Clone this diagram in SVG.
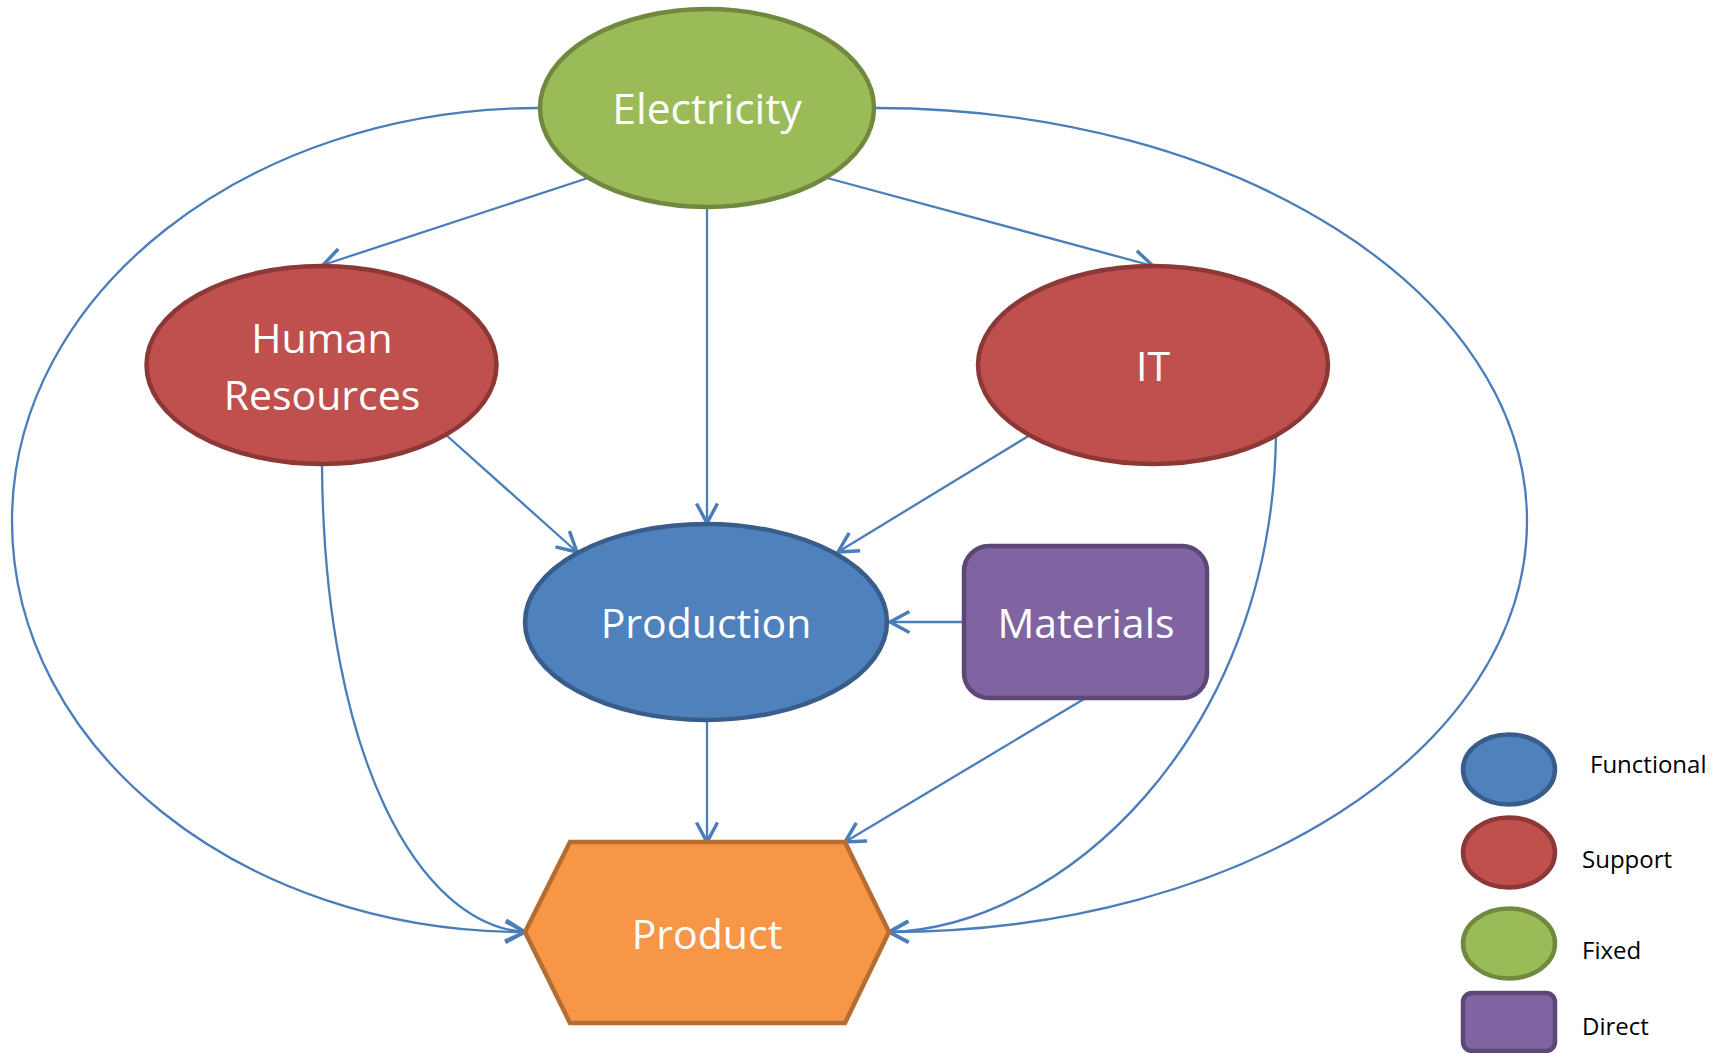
<svg xmlns="http://www.w3.org/2000/svg" width="1720" height="1053" viewBox="0 0 1720 1053">
<style>
.lbl{font-family:"Open Sans","Liberation Sans",sans-serif;font-size:41px;fill:#ffffff;text-anchor:middle}
.leg{font-family:"Open Sans","Liberation Sans",sans-serif;font-size:24px;fill:#000000}
.edge{fill:none;stroke:#4a7ebb;stroke-width:2.3}
.green{fill:#9bbb59;stroke:#71893f;stroke-width:4.5}
.red{fill:#c0504d;stroke:#8c3836;stroke-width:4.5}
.blue{fill:#4f81bd;stroke:#385d8a;stroke-width:4.5}
.purple{fill:#8064a2;stroke:#5c4776;stroke-width:4.5}
.orange{fill:#f79646;stroke:#b66d31;stroke-width:4.5}
</style>
<defs>
<marker id="arr" markerUnits="userSpaceOnUse" markerWidth="30" markerHeight="30" viewBox="-15 -10 20 20" refX="0" refY="0" orient="auto">
<path d="M -13 -7 L 0 0 L -13 7" fill="none" stroke="#4a7ebb" stroke-width="2.3"/>
</marker>
</defs>
<rect width="1720" height="1053" fill="#ffffff"/>
<g id="connectors">
<path class="edge" d="M 588 178 L 323 265" marker-end="url(#arr)"/>
<path class="edge" d="M 827 178 L 1153 266" marker-end="url(#arr)"/>
<path class="edge" d="M 707 208 L 707 523" marker-end="url(#arr)"/>
<path class="edge" d="M 445 434 L 577 552" marker-end="url(#arr)"/>
<path class="edge" d="M 1030 435 L 838 552" marker-end="url(#arr)"/>
<path class="edge" d="M 963 622 L 890 622" marker-end="url(#arr)"/>
<path class="edge" d="M 707 722 L 707 842" marker-end="url(#arr)"/>
<path class="edge" d="M 1084 699 L 845 842" marker-end="url(#arr)"/>
<path class="edge" d="M 539 108 C 248 108 12 293 12 521 C 12 749 241 932 525 932" marker-end="url(#arr)"/>
<path class="edge" d="M 875 108 C 1236 108 1527 293 1527 521 C 1527 749 1242 932 889 932" marker-end="url(#arr)"/>
<path class="edge" d="M 322 465 C 324 760 420 925 525 932" marker-end="url(#arr)"/>
<path class="edge" d="M 1276 435 C 1272 740 1060 928 889 932" marker-end="url(#arr)"/>
</g>
<g id="electricity">
<ellipse class="green" cx="707" cy="108" rx="167" ry="99"/>
<text class="lbl" x="707" y="124" style="font-size:42.5px">Electricity</text>
</g>
<g id="human-resources">
<ellipse class="red" cx="321.5" cy="365" rx="175" ry="99"/>
<text class="lbl" x="322" y="353">Human</text>
<text class="lbl" x="322" y="410">Resources</text>
</g>
<g id="it">
<ellipse class="red" cx="1153" cy="365" rx="175" ry="99"/>
<text class="lbl" x="1153" y="381">IT</text>
</g>
<g id="production">
<ellipse class="blue" cx="706" cy="622" rx="181" ry="98"/>
<text class="lbl" x="706" y="638">Production</text>
</g>
<g id="materials">
<rect class="purple" x="964" y="546" width="243" height="152" rx="25" ry="25"/>
<text class="lbl" x="1086" y="638">Materials</text>
</g>
<g id="product">
<polygon class="orange" points="570,842 845,842 889,932 845,1023 570,1023 525,932"/>
<text class="lbl" x="707" y="949">Product</text>
</g>
<g id="legend">
<ellipse class="blue" cx="1509" cy="769.5" rx="46" ry="35" stroke-width="3.5"/>
<text class="leg" x="1590" y="773">Functional</text>
<ellipse class="red" cx="1509" cy="852.5" rx="46" ry="35" stroke-width="3.5"/>
<text class="leg" x="1582" y="868">Support</text>
<ellipse class="green" cx="1509" cy="943.5" rx="46" ry="35" stroke-width="3.5"/>
<text class="leg" x="1582" y="959">Fixed</text>
<rect class="purple" x="1463" y="993" width="92" height="58" rx="9" ry="9" stroke-width="3.5"/>
<text class="leg" x="1582" y="1035">Direct</text>
</g>
</svg>
